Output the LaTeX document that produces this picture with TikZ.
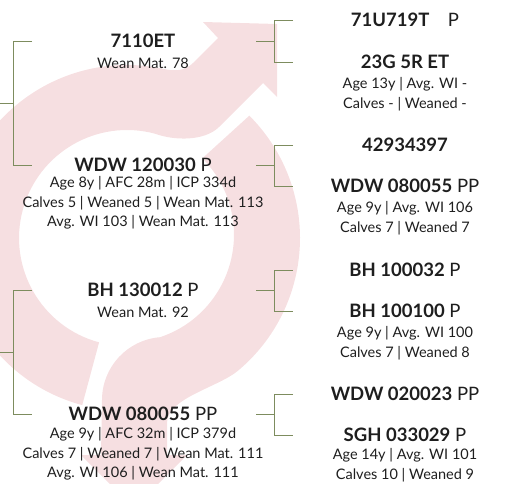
\documentclass[tikz,border=0pt]{standalone}
\usepackage{fontspec}
\setmainfont{Lato}
\usetikzlibrary{positioning,calc}
\definecolor{PedPink}{HTML}{F6DFE1}
\definecolor{PedGreen}{HTML}{7D8C5E}
\definecolor{PedInk}{HTML}{1E1E1E}

\begin{document}
\begin{tikzpicture}[x=1pt,y=1pt,node distance=8.5pt,
    every node/.style={inner sep=0pt,text=PedInk},
    animal/.style={font=\fontsize{18.5}{20}\selectfont},
    stats/.style={font=\fontsize{14.5}{19.75}\selectfont,align=center,execute at begin node=\rule{0pt}{12pt}},
    bracket/.style={draw=PedGreen,line width=0.9pt}]
  \useasboundingbox (0,0) rectangle (510,483);
  \clip (0,0) rectangle (510,483);
  % background: two arrows round a circle
  \fill[PedPink] (127,245) ++(255:173) arc[start angle=255,end angle=78,radius=173]
    .. controls (175,411.5) and (185,412) .. (193,420) -- (218,445) -- (203,461) -- (277,459)
    -- (277,386) -- (263,400) -- (219,356) .. controls (205,342) and (175,342) .. (155,349.3)
    arc[start angle=75,end angle=255,radius=108] -- cycle;
  \fill[PedPink] (127,245) ++(45:173) arc[start angle=45,end angle=-50,radius=173]
    .. controls (218,95.5) and (167,85) .. (167,60) -- (167,28) -- (187,28) -- (134,-25)
    -- (81,28) -- (101,28) -- (102,83) arc[start angle=180,end angle=94.5,radius=63]
    arc[start angle=-71.6,end angle=45,radius=108] -- cycle;
  % parents
  \node[animal] (sireA) at (143,442) {\textbf{7110ET}};
  \node[stats,below=of sireA] (sireAinfo) {Wean Mat. 78};
  \node[animal] (damA) at (143,318) {\textbf{WDW 120030} P};
  \node[stats,below=4pt of damA] (damAinfo) {Age 8y | AFC 28m | ICP 334d\\Calves 5 | Weaned 5 | Wean Mat. 113\\Avg. WI 103 | Wean Mat. 113};
  \node[animal] (sireB) at (143,193) {\textbf{BH 130012} P};
  \node[stats,below=of sireB] (sireBinfo) {Wean Mat. 92};
  \node[animal] (damB) at (143,69) {\textbf{WDW 080055} PP};
  \node[stats,below=6pt of damB] (damBinfo) {Age 9y | AFC 32m | ICP 379d\\Calves 7 | Weaned 7 | Wean Mat. 111\\Avg. WI 106 | Wean Mat. 111};
  % grandparents
  \node[animal] (ssA) at (405,463) {\textbf{71U719T}\quad P};
  \node[animal] (sdA) at (405,421) {\textbf{23G 5R ET}};
  \node[stats,below=of sdA] (sdAinfo) {Age 13y | Avg. WI -\\Calves - | Weaned -};
  \node[animal] (dsA) at (405,338) {\textbf{42934397}};
  \node[animal] (ddA) at (405,297) {\textbf{WDW 080055} PP};
  \node[stats,below=of ddA] (ddAinfo) {Age 9y | Avg. WI 106\\Calves 7 | Weaned 7};
  \node[animal] (ssB) at (405,213) {\textbf{BH 100032} P};
  \node[animal] (sdB) at (405,172) {\textbf{BH 100100} P};
  \node[stats,below=of sdB] (sdBinfo) {Age 9y | Avg. WI 100\\Calves 7 | Weaned 8};
  \node[animal] (dsB) at (405,89) {\textbf{WDW 020023} PP};
  \node[animal] (ddB) at (405,48) {\textbf{SGH 033029} P};
  \node[stats,below=6.5pt of ddB] (ddBinfo) {Age 14y | Avg. WI 101\\Calves 10 | Weaned 9};
  % brackets
  \coordinate (lx) at (13,0);
  \coordinate (rx) at (274,0);
  \foreach \s/\d in {sireA/damA,sireB/damB}{
    \draw[bracket] (lx |- \s) ++(19,0) -- (lx |- \s) -- (lx |- \d) -- ++(19,0);
    \draw[bracket] ($(lx |- \s)!.5!(lx |- \d)$) -- ++(-13,0);
  }
  \foreach \p/\s/\d in {sireA/ssA/sdA,damA/dsA/ddA,sireB/ssB/sdB,damB/dsB/ddB}{
    \draw[bracket] (rx |- \s) ++(19,0) -- (rx |- \s) -- (rx |- \d) -- ++(19,0);
    \draw[bracket] (rx |- \p) ++(-18,0) -- (rx |- \p);
  }
\end{tikzpicture}
\end{document}
